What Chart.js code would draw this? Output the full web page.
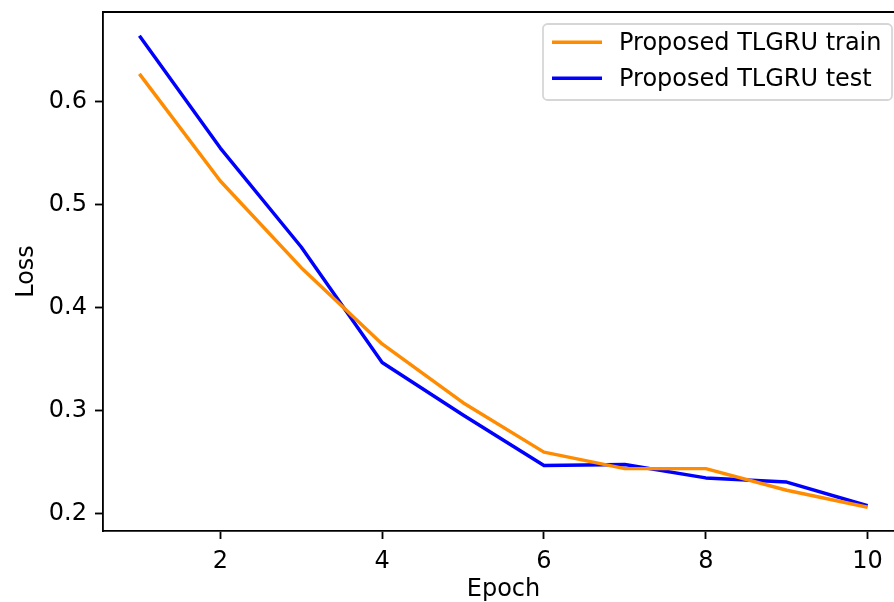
<!DOCTYPE html>
<html>
<head>
<meta charset="utf-8">
<script src="https://cdn.jsdelivr.net/npm/chart.js@4.4.1/dist/chart.umd.min.js"></script>
<style>
  html, body { margin: 0; padding: 0; background: #fff; overflow: hidden; }
  #wrap { width: 904px; height: 602px; }
</style>
</head>
<body>
<div id="wrap"><canvas id="c" width="904" height="602"></canvas></div>
<script>
// Training curves of the proposed TLGRU model
const epochs = [1, 2, 3, 4, 5, 6, 7, 8, 9, 10];
const trainLoss = [0.627, 0.523, 0.439, 0.365, 0.308, 0.260, 0.244, 0.244, 0.223, 0.2065];
const testLoss  = [0.664, 0.555, 0.459, 0.347, 0.296, 0.247, 0.248, 0.235, 0.231, 0.208];
const xTicks = [2, 4, 6, 8, 10];
const yTicks = [0.2, 0.3, 0.4, 0.5, 0.6];
const seriesLabels = ['Proposed TLGRU train', 'Proposed TLGRU test'];
const seriesColors = ['#ff8c00', '#0000ff'];

const FONT = 'DejaVu Sans';
const FS = 24;
const AXW = 1.84;

const toPoints = (ys) => epochs.map((x, i) => ({ x: x, y: ys[i] }));

// frame line along the top of the plot area
const topFrame = {
  id: 'topFrame',
  afterDraw(chart) {
    const { ctx, chartArea: a } = chart;
    ctx.save();
    ctx.strokeStyle = '#000';
    ctx.lineWidth = AXW;
    ctx.beginPath();
    ctx.moveTo(a.left - AXW / 2, a.top);
    ctx.lineTo(a.right + AXW / 2, a.top);
    ctx.stroke();
    ctx.restore();
  }
};

// boxed legend in the upper right corner of the plot
const boxLegend = {
  id: 'boxLegend',
  afterDraw(chart) {
    const ctx = chart.ctx;
    const x0 = 543, y0 = 24, w = 349, h = 76, r = 4.6;
    ctx.save();
    ctx.fillStyle = 'rgba(255,255,255,0.8)';
    ctx.strokeStyle = 'rgba(204,204,204,0.8)';
    ctx.lineWidth = 1.8;
    ctx.beginPath();
    ctx.roundRect(x0, y0, w, h, r);
    ctx.fill();
    ctx.stroke();
    ctx.font = FS + 'px "' + FONT + '"';
    ctx.textBaseline = 'middle';
    ctx.textAlign = 'left';
    const rows = [42.3, 78.3];
    chart.data.datasets.forEach((ds, i) => {
      const y = rows[i];
      ctx.strokeStyle = ds.borderColor;
      ctx.lineWidth = 3.45;
      ctx.beginPath();
      ctx.moveTo(552, y);
      ctx.lineTo(602, y);
      ctx.stroke();
      ctx.fillStyle = '#000';
      ctx.fillText(ds.label, 619, y + 1.5);
    });
    ctx.restore();
  }
};

new Chart(document.getElementById('c'), {
  type: 'line',
  data: {
    datasets: [
      { label: seriesLabels[0], data: toPoints(trainLoss), borderColor: seriesColors[0], backgroundColor: seriesColors[0] },
      { label: seriesLabels[1], data: toPoints(testLoss), borderColor: seriesColors[1], backgroundColor: seriesColors[1] }
    ]
  },
  options: {
    responsive: false,
    animation: false,
    devicePixelRatio: 1,
    layout: { padding: { top: 12, left: 0, right: 0, bottom: 0 } },
    elements: {
      line: { borderWidth: 3.45, tension: 0, borderCapStyle: 'butt', borderJoinStyle: 'round' },
      point: { radius: 0, hoverRadius: 0 }
    },
    plugins: {
      legend: { display: false },
      tooltip: { enabled: false }
    },
    scales: {
      x: {
        type: 'linear',
        min: 0.55,
        max: 10.45,
        afterBuildTicks(scale) { scale.ticks = xTicks.map(v => ({ value: v })); },
        afterFit(scale) {
          scale.height = 71;
          scale.paddingLeft = 0; scale.paddingRight = 0;
          scale.paddingTop = 0; scale.paddingBottom = 0;
        },
        grid: {
          drawOnChartArea: false, drawTicks: true, tickLength: 8,
          tickColor: '#000', tickWidth: AXW
        },
        border: { display: true, color: '#000', width: AXW },
        ticks: {
          color: '#000', padding: 8, maxRotation: 0,
          font: { family: FONT, size: FS },
          callback: (v) => String(v)
        },
        title: {
          display: true, text: 'Epoch', color: '#000',
          font: { family: FONT, size: FS, lineHeight: 1.0 },
          padding: { top: 0, bottom: 0 }
        }
      },
      y: {
        type: 'linear',
        min: 0.1835,
        max: 0.687,
        afterBuildTicks(scale) { scale.ticks = yTicks.map(v => ({ value: v })); },
        afterFit(scale) {
          scale.width = 103;
          scale.paddingLeft = 0; scale.paddingRight = 0;
          scale.paddingTop = 0; scale.paddingBottom = 0;
        },
        grid: {
          drawOnChartArea: false, drawTicks: true, tickLength: 8,
          tickColor: '#000', tickWidth: AXW
        },
        border: { display: true, color: '#000', width: AXW },
        ticks: {
          color: '#000', padding: 8,
          font: { family: FONT, size: FS },
          callback: (v) => v.toFixed(1)
        },
        title: {
          display: true, text: 'Loss', color: '#000',
          font: { family: FONT, size: FS, lineHeight: 1.2 },
          padding: { top: 12, bottom: 0 }
        }
      }
    }
  },
  plugins: [topFrame, boxLegend]
});
</script>
</body>
</html>
